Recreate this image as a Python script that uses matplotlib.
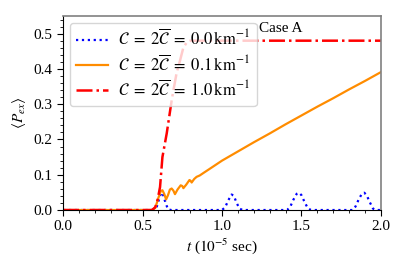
import matplotlib
matplotlib.use('Agg')
import matplotlib.pyplot as plt
from matplotlib.ticker import MultipleLocator

plt.rcParams['font.family'] = ['Liberation Serif', 'DejaVu Serif']
plt.rcParams['mathtext.fontset'] = 'stix'
plt.rcParams['font.size'] = 11

# C = 0.0 km^-1  (blue dotted)
t_a = [0.0, 0.56, 0.59, 0.61, 0.62, 0.63, 0.645, 0.66, 0.68,
       1.00, 1.02, 1.04, 1.06, 1.075, 1.09, 1.11, 1.13,
       1.41, 1.43, 1.45, 1.47, 1.485, 1.50, 1.52, 1.54, 1.56,
       1.82, 1.84, 1.86, 1.88, 1.895, 1.91, 1.93, 1.95, 1.97, 2.0]
p_a = [0.0, 0.0, 0.01, 0.04, 0.05, 0.042, 0.02, 0.002, 0.0,
       0.0, 0.008, 0.028, 0.044, 0.04, 0.022, 0.004, 0.0,
       0.0, 0.01, 0.03, 0.046, 0.049, 0.042, 0.022, 0.005, 0.0,
       0.0, 0.01, 0.03, 0.046, 0.049, 0.042, 0.022, 0.004, 0.0, 0.0]

# C = 0.1 km^-1  (orange solid)
t_b = [0.0, 0.56, 0.58, 0.60, 0.615, 0.625, 0.637, 0.648, 0.66, 0.672, 0.683,
       0.694, 0.704, 0.72, 0.74, 0.75, 0.757, 0.775, 0.795, 0.802, 0.809,
       0.825, 0.84, 0.86, 0.883, 0.92, 0.96, 1.0, 1.1, 1.2, 1.3, 1.4, 1.5,
       1.6, 1.7, 1.8, 1.9, 2.0]
p_b = [0.0, 0.0, 0.006, 0.035, 0.054, 0.056, 0.045, 0.03, 0.042, 0.058, 0.061,
       0.055, 0.045, 0.058, 0.07, 0.068, 0.062, 0.072, 0.085, 0.083, 0.078,
       0.088, 0.094, 0.098, 0.105, 0.116, 0.128, 0.14, 0.166, 0.192, 0.217, 0.243, 0.268,
       0.293, 0.317, 0.342, 0.366, 0.391]

# C = 1.0 km^-1  (red dash-dot)
t_c = [0.0, 0.56, 0.58, 0.595, 0.61, 0.625, 0.652, 0.683, 0.694, 0.715,
       0.736, 0.757, 0.78, 0.80, 0.85, 2.0]
p_c = [0.0, 0.0, 0.008, 0.03, 0.065, 0.15, 0.217, 0.31, 0.339, 0.39,
       0.424, 0.461, 0.476, 0.48, 0.48, 0.48]

labels = [r'$\mathcal{C}\;=\;2\overline{\mathcal{C}}\;=\;0.0\,\mathrm{km}^{-1}$',
          r'$\mathcal{C}\;=\;2\overline{\mathcal{C}}\;=\;0.1\,\mathrm{km}^{-1}$',
          r'$\mathcal{C}\;=\;2\overline{\mathcal{C}}\;=\;1.0\,\mathrm{km}^{-1}$']

fig = plt.figure(figsize=(4.07, 2.71), dpi=100)
ax = fig.add_axes([0.155, 0.225, 0.781, 0.716])

ax.plot(t_a, p_a, color='blue', linestyle=':', lw=1.6, label=labels[0])
ax.plot(t_b, p_b, color='darkorange', linestyle='-', lw=1.6, label=labels[1])
ax.plot(t_c, p_c, color='red', linestyle='-.', lw=1.8, label=labels[2])

ax.set_xlim(0, 2.0)
ax.set_ylim(0, 0.55)
ax.xaxis.set_major_locator(MultipleLocator(0.5))
ax.xaxis.set_minor_locator(MultipleLocator(0.1))
ax.yaxis.set_major_locator(MultipleLocator(0.1))
ax.yaxis.set_minor_locator(MultipleLocator(0.02))
ax.tick_params(which='major', length=4, labelsize=11)
ax.tick_params(which='minor', length=2.5)
for s in ['top', 'right']:
    ax.spines[s].set_color('gray')
    ax.spines[s].set_linewidth(1.2)

ax.set_xlabel(r'$t$ ($10^{-5}$ sec)', labelpad=2)
ax.set_ylabel(r'$\langle P_{ex}\rangle$', labelpad=4)
ax.text(1.23, 0.514, 'Case A', va='center', ha='left', fontsize=11)

ax.legend(loc='upper left', fontsize=12, framealpha=0.8, handlelength=1.9,
          handletextpad=0.6, borderaxespad=0.4, labelspacing=0.3)

fig.savefig('out.png', dpi=100)
